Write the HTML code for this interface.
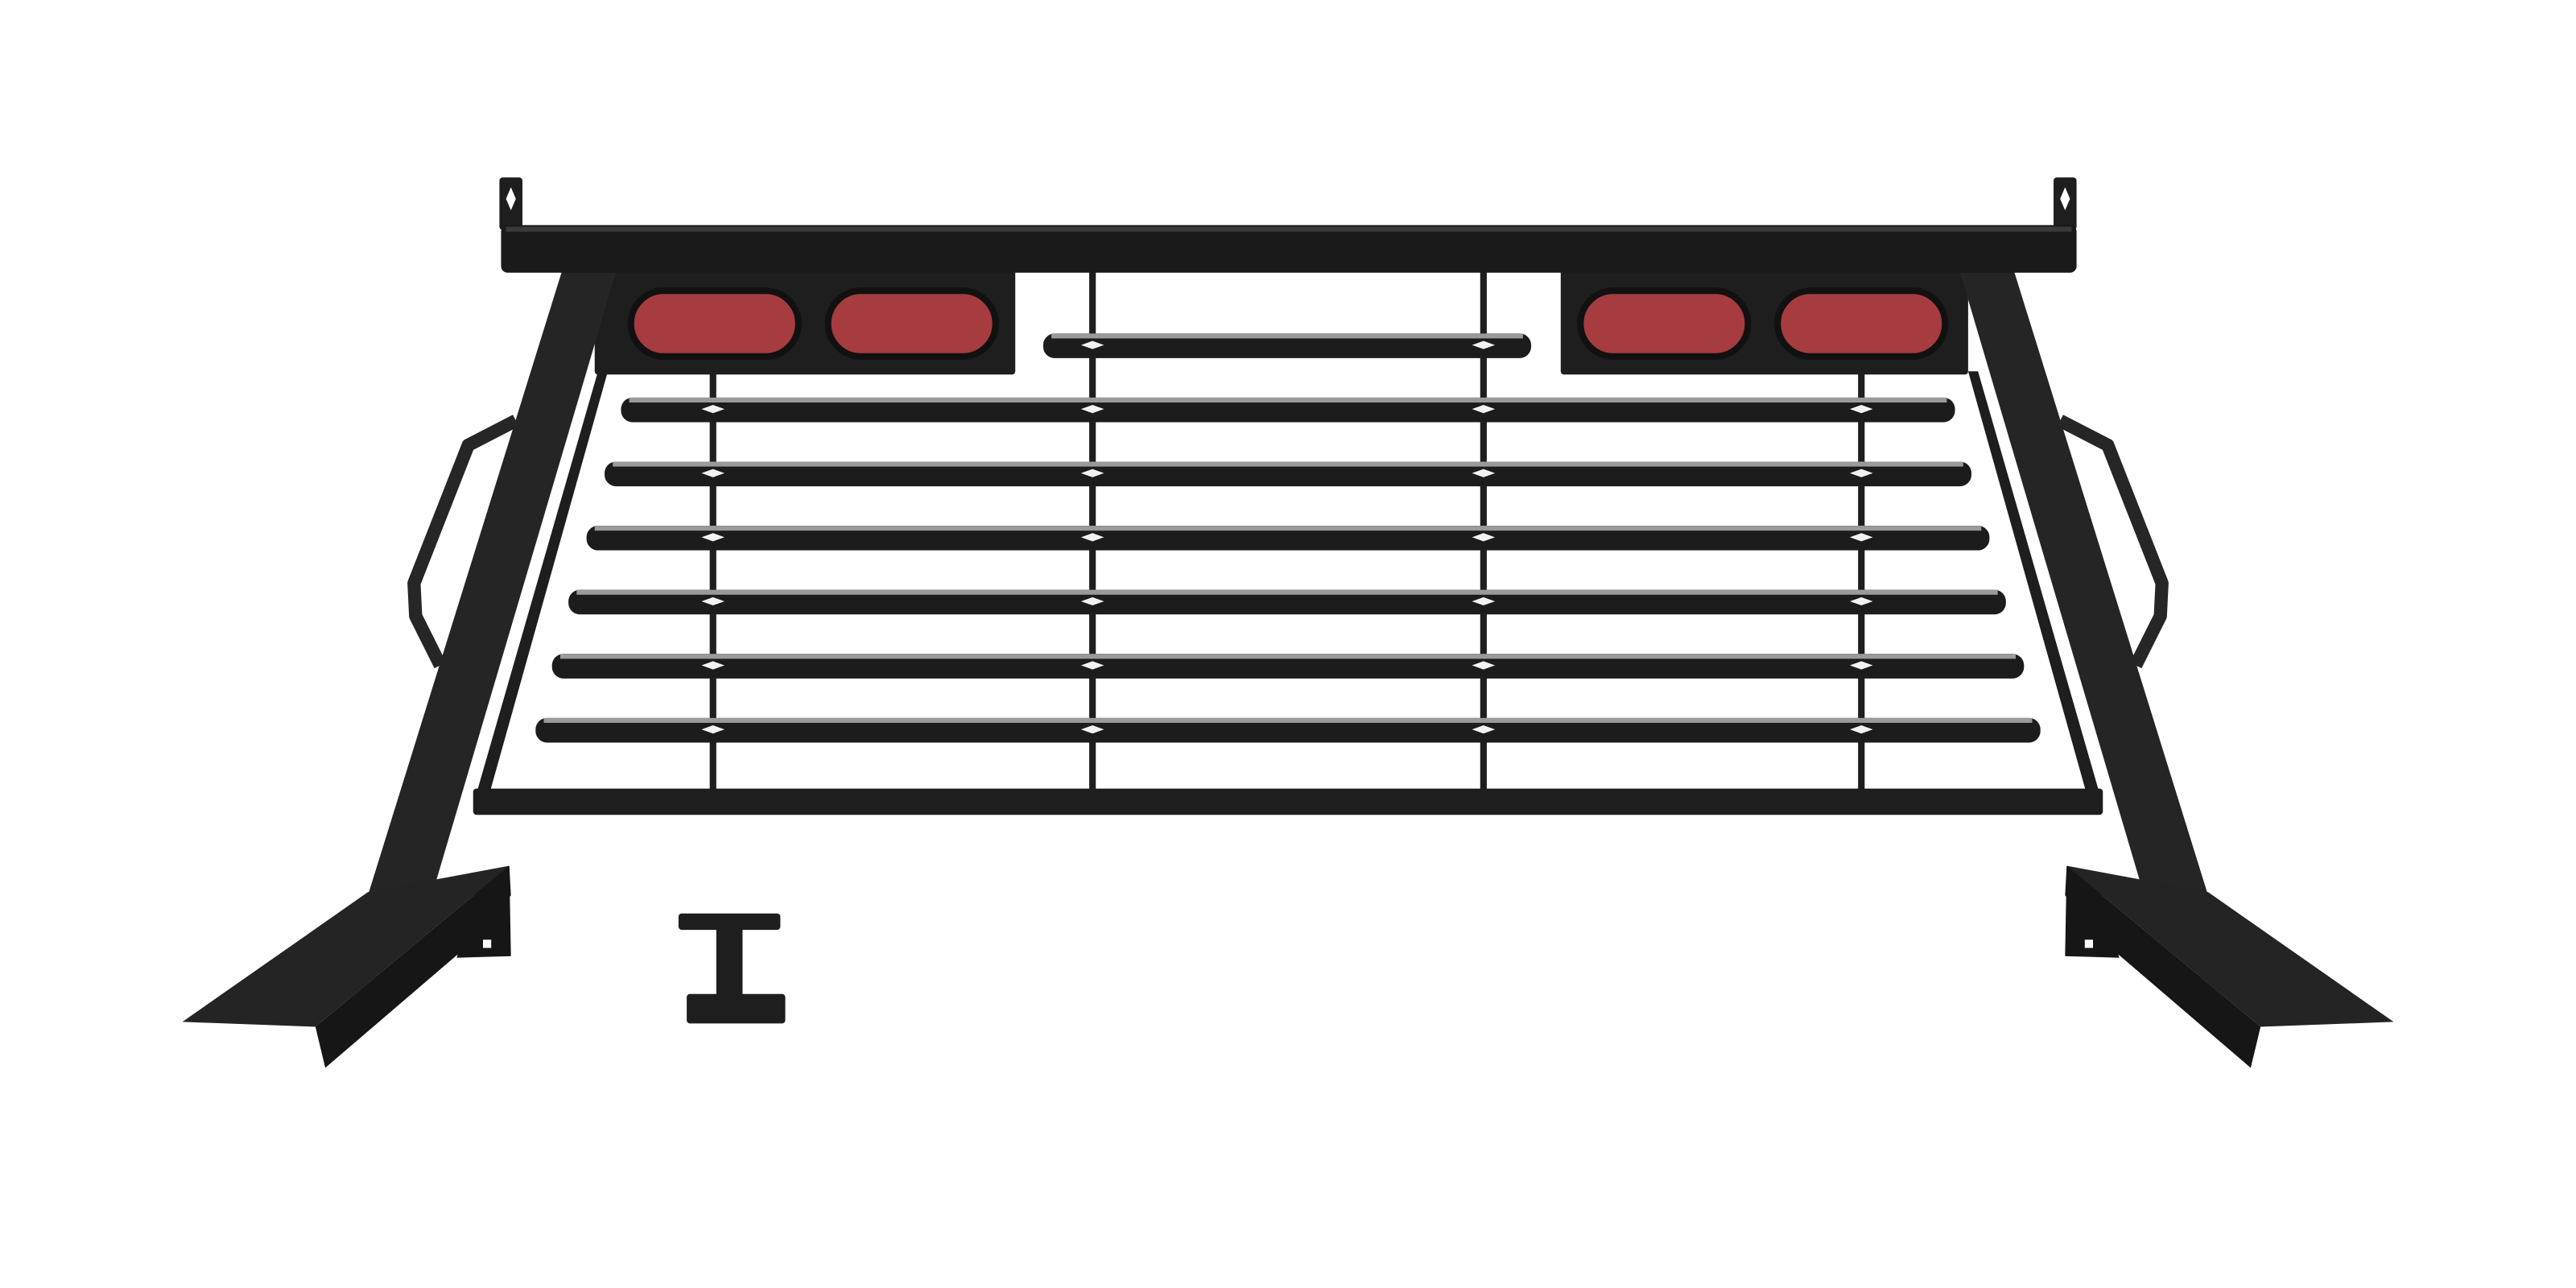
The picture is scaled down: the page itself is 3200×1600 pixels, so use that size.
<!DOCTYPE html>
<html><head><style>html,body{margin:0;padding:0;background:#fff}svg{display:block}</style></head>
<body>
<svg width="3200" height="1600" viewBox="0 0 1568 784" xmlns="http://www.w3.org/2000/svg">
<defs>
  <g id="dm"><polygon points="-7,0 0,-2.5 7,0 0,2.5" fill="#f2f2f2"/></g>
</defs>
<rect width="1568" height="784" fill="#fff"/>
<g fill="#1e1e1e" stroke="none">
  <!-- handles -->
  <polyline points="314,256 285,271 252,355 253,375 268,405" fill="none" stroke="#262626" stroke-width="8" stroke-linejoin="round"/>
  <polyline points="1254,256 1283,271 1316,355 1315,375 1300,405" fill="none" stroke="#262626" stroke-width="8" stroke-linejoin="round"/>
  <!-- tabs -->
  <rect x="304" y="108" width="14" height="32" rx="2"/>
  <rect x="1250" y="108" width="14" height="32" rx="2"/>
  <!-- light boxes -->
  <rect x="362" y="160" width="256" height="68" rx="2"/>
  <rect x="950" y="160" width="248" height="68" rx="2"/>
  <!-- vertical rods -->
  <rect x="432" y="225" width="4" height="258"/>
  <rect x="663" y="165" width="4" height="318"/>
  <rect x="901" y="165" width="4" height="318"/>
  <rect x="1131" y="225" width="4" height="258"/>
  <!-- inner frame lines -->
  <polygon points="364,226 370,226 296,490 288,490"/>
  <polygon points="1198,226 1204,226 1280,490 1272,490"/>
  <!-- bottom bar -->
  <rect x="288" y="480" width="992" height="16" rx="2"/>
  <!-- posts -->
  <polygon points="343,162 376,162 262,548 223,548" fill="#252525"/>
  <polygon points="1192,162 1225,162 1345,548 1306,548" fill="#252525"/>
  <!-- top bar -->
  <rect x="305" y="137" width="959" height="29" rx="4" fill="#1a1a1a"/>
  <rect x="308" y="138" width="953" height="3" fill="#3a3a3a"/>
  <!-- feet -->
  <polygon points="278,583 311,582 310,527 290,540" fill="#161616"/>
  <polygon points="111,622 224,543 310,527 192,625" fill="#242424"/>
  <polygon points="192,625 310,527 311,545 282,578 198,650" fill="#161616"/>
  <rect x="294" y="572" width="5" height="5" fill="#fff"/>
  <polygon points="1290,583 1257,582 1258,527 1278,540" fill="#161616"/>
  <polygon points="1457,622 1344,543 1258,527 1376,625" fill="#242424"/>
  <polygon points="1376,625 1258,527 1257,545 1286,578 1370,650" fill="#161616"/>
  <rect x="1269" y="572" width="5" height="5" fill="#fff"/>
  <!-- T bracket -->
  <rect x="413" y="556" width="62" height="10" rx="2"/>
  <rect x="436" y="562" width="16" height="48"/>
  <rect x="418" y="605" width="60" height="18" rx="2"/>
</g>
<polygon points="311,114 314,121 311,128 308,121" fill="#fff"/>
<polygon points="1257,114 1260,121 1257,128 1254,121" fill="#fff"/>
<!-- lenses -->
<g fill="#a63c3f" stroke="#111" stroke-width="4">
  <rect x="384" y="177" width="102" height="40" rx="20"/>
  <rect x="504" y="177" width="102" height="40" rx="20"/>
  <rect x="962" y="177" width="102" height="40" rx="20"/>
  <rect x="1082" y="177" width="102" height="40" rx="20"/>
</g>
<!-- slats -->
<g>
  <rect x="635" y="203" width="297" height="15" rx="7" fill="#1c1c1c"/>
  <rect x="640" y="203" width="287" height="3" fill="#9a9a9a"/>
  <rect x="378" y="242" width="812" height="15" rx="7" fill="#1c1c1c"/>
  <rect x="383" y="242" width="802" height="3" fill="#9a9a9a"/>
  <rect x="368" y="281" width="832" height="15" rx="7" fill="#1c1c1c"/>
  <rect x="373" y="281" width="822" height="3" fill="#9a9a9a"/>
  <rect x="357" y="320" width="854" height="15" rx="7" fill="#1c1c1c"/>
  <rect x="362" y="320" width="844" height="3" fill="#9a9a9a"/>
  <rect x="346" y="359" width="875" height="15" rx="7" fill="#1c1c1c"/>
  <rect x="351" y="359" width="865" height="3" fill="#9a9a9a"/>
  <rect x="336" y="398" width="896" height="15" rx="7" fill="#1c1c1c"/>
  <rect x="341" y="398" width="886" height="3" fill="#9a9a9a"/>
  <rect x="326" y="437" width="916" height="15" rx="7" fill="#1c1c1c"/>
  <rect x="331" y="437" width="906" height="3" fill="#9a9a9a"/>
</g>
<g>
  <use href="#dm" x="665" y="210"/><use href="#dm" x="903" y="210"/>
  <use href="#dm" x="434" y="249"/><use href="#dm" x="665" y="249"/><use href="#dm" x="903" y="249"/><use href="#dm" x="1133" y="249"/>
  <use href="#dm" x="434" y="288"/><use href="#dm" x="665" y="288"/><use href="#dm" x="903" y="288"/><use href="#dm" x="1133" y="288"/>
  <use href="#dm" x="434" y="327"/><use href="#dm" x="665" y="327"/><use href="#dm" x="903" y="327"/><use href="#dm" x="1133" y="327"/>
  <use href="#dm" x="434" y="366"/><use href="#dm" x="665" y="366"/><use href="#dm" x="903" y="366"/><use href="#dm" x="1133" y="366"/>
  <use href="#dm" x="434" y="405"/><use href="#dm" x="665" y="405"/><use href="#dm" x="903" y="405"/><use href="#dm" x="1133" y="405"/>
  <use href="#dm" x="434" y="444"/><use href="#dm" x="665" y="444"/><use href="#dm" x="903" y="444"/><use href="#dm" x="1133" y="444"/>
</g>
</svg>
</body></html>
